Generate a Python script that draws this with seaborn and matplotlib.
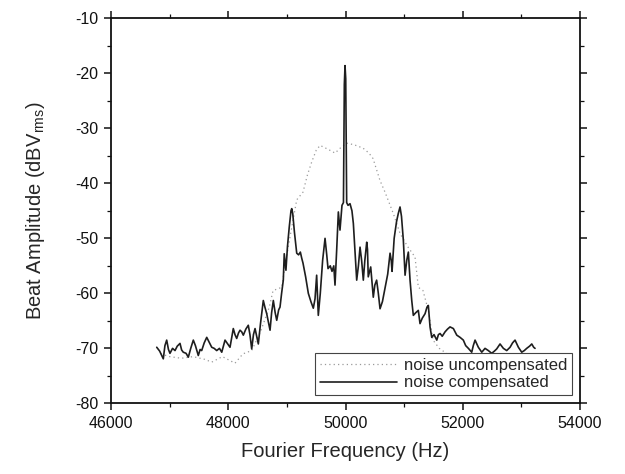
import numpy as np
import pandas as pd
import matplotlib
matplotlib.use("Agg")
import matplotlib.pyplot as plt
import seaborn as sns

# === Data ===
comp_freq = [46780, 46830, 46892, 46920, 46950, 46980, 47006, 47050, 47092, 47130,
             47177, 47205, 47233, 47280, 47319, 47360, 47404, 47440, 47489, 47520,
             47547, 47590, 47633, 47680, 47718, 47760, 47803, 47850, 47889, 47920,
             47945, 47990, 48030, 48060, 48086, 48115, 48144, 48175, 48201, 48230,
             48257, 48300, 48342, 48370, 48400, 48430, 48457, 48490, 48513, 48550,
             48598, 48625, 48656, 48690, 48713, 48740, 48769, 48800, 48827, 48860,
             48883, 48910, 48939, 48955, 48984, 49010, 49040, 49070, 49083, 49100,
             49130, 49168, 49200, 49230, 49253, 49275, 49320, 49366, 49410, 49451,
             49480, 49508, 49520, 49536, 49570, 49610, 49651, 49680, 49702, 49740,
             49770, 49800, 49821, 49850, 49878, 49906, 49940, 49965, 49980, 49992,
             50004, 50020, 50043, 50077, 50110, 50134, 50160, 50191, 50220, 50248,
             50275, 50304, 50330, 50362, 50375, 50388, 50430, 50474, 50500, 50531,
             50560, 50589, 50630, 50674, 50720, 50760, 50780, 50794, 50830, 50870,
             50900, 50930, 50955, 50987, 51016, 51045, 51072, 51101, 51130, 51157,
             51200, 51242, 51271, 51310, 51357, 51390, 51413, 51442, 51471, 51510,
             51557, 51585, 51613, 51650, 51698, 51740, 51783, 51840, 51870, 51898,
             51954, 52010, 52050, 52096, 52153, 52180, 52210, 52266, 52324, 52380,
             52436, 52494, 52540, 52579, 52636, 52693, 52750, 52807, 52850, 52892,
             52949, 53006, 53050, 53091, 53140, 53177, 53210, 53233]
comp_db = [-69.8, -70.5, -71.9, -69.5, -68.5, -70.2, -70.9, -70.0, -70.4, -69.6,
           -69.1, -70.3, -70.7, -70.9, -71.6, -70.0, -68.5, -69.5, -71.3, -70.2,
           -70.4, -69.0, -68.0, -69.0, -69.8, -70.0, -70.4, -70.0, -70.7, -69.5,
           -68.5, -69.2, -69.8, -68.0, -66.4, -67.5, -68.2, -67.2, -66.7, -67.0,
           -67.6, -66.5, -65.8, -67.5, -70.1, -67.5, -66.4, -68.0, -69.2, -65.5,
           -61.3, -62.5, -63.7, -65.5, -66.7, -63.5, -61.3, -63.5, -64.9, -63.0,
           -62.5, -60.0, -57.6, -52.8, -55.8, -51.5, -48.0, -45.0, -44.6, -45.5,
           -49.0, -52.7, -53.0, -52.5, -53.6, -54.5, -57.0, -60.0, -61.5, -62.7,
           -61.0, -56.7, -60.0, -64.0, -60.0, -54.0, -50.0, -53.0, -55.5, -55.0,
           -56.0, -55.0, -58.5, -52.0, -45.2, -48.5, -44.0, -43.5, -22.0, -18.6,
           -21.0, -43.5, -44.0, -43.7, -45.0, -47.3, -52.0, -57.6, -55.0, -51.6,
           -54.0, -57.6, -54.0, -50.7, -52.0, -57.0, -55.2, -60.7, -58.5, -57.6,
           -60.0, -62.8, -61.5, -59.1, -56.5, -52.7, -54.0, -56.0, -50.0, -47.0,
           -45.5, -44.3, -46.0, -50.4, -56.7, -54.0, -52.5, -57.6, -61.3, -64.0,
           -63.5, -63.1, -65.5, -64.5, -63.7, -62.5, -62.2, -66.1, -68.0, -67.5,
           -68.5, -67.5, -67.3, -67.8, -67.0, -66.5, -66.1, -66.4, -67.0, -67.6,
           -68.0, -68.5, -69.5, -70.0, -70.7, -69.5, -68.5, -69.8, -70.7, -70.0,
           -70.4, -70.9, -70.5, -70.1, -69.2, -70.0, -70.4, -69.8, -69.0, -68.5,
           -69.8, -70.7, -70.4, -70.0, -69.6, -69.2, -69.8, -70.0]

uncomp_freq = [46850, 47000, 47200, 47400, 47600, 47718, 47900, 48115, 48250, 48400,
               48550, 48700, 48764, 48912, 49000, 49100, 49168, 49275, 49350, 49424,
               49500, 49566, 49700, 49822, 49920, 50021, 50150, 50299, 50400, 50470,
               50589, 50674, 50816, 50930, 51060, 51186, 51242, 51322, 51413, 51493,
               51600, 51800, 52000, 52300, 52600, 52900, 53200]
uncomp_db = [-71.0, -71.5, -71.8, -71.5, -72.0, -72.5, -71.5, -72.7, -71.0, -70.4,
             -67.0, -62.5, -59.5, -58.9, -53.0, -47.0, -43.0, -41.6, -38.5, -36.1,
             -34.0, -33.1, -33.8, -34.5, -33.5, -32.7, -33.0, -33.6, -34.5, -35.5,
             -39.5, -41.6, -45.5, -49.1, -51.5, -53.4, -58.9, -59.5, -63.1, -68.5,
             -70.0, -71.5, -72.0, -72.5, -72.0, -72.5, -72.0]

x_ticks = [46000, 48000, 50000, 52000, 54000]
y_ticks = [-80, -70, -60, -50, -40, -30, -20, -10]

comp = pd.DataFrame({"freq": comp_freq, "db": comp_db})
uncomp = pd.DataFrame({"freq": uncomp_freq, "db": uncomp_db})

# === Style ===
sns.set_style("ticks")
plt.rcParams["font.family"] = ["Liberation Sans", "DejaVu Sans"]
plt.rcParams["mathtext.fontset"] = "custom"
plt.rcParams["mathtext.rm"] = "Liberation Sans"
plt.rcParams["mathtext.it"] = "Liberation Sans"
plt.rcParams["axes.unicode_minus"] = False

fig = plt.figure(figsize=(6.25, 4.74), dpi=100)
ax = fig.add_axes([0.1776, 0.149, 0.7504, 0.8124])

sns.lineplot(data=uncomp, x="freq", y="db", ax=ax, color="#9a9a9a",
             linewidth=0.9, linestyle=(0, (1, 2.5)), label="noise uncompensated")
sns.lineplot(data=comp, x="freq", y="db", ax=ax, color="#1e1e1e",
             linewidth=1.2, label="noise compensated")

ax.set_xlim(46000, 54000)
ax.set_ylim(-80, -10)
ax.set_xticks(x_ticks)
ax.set_yticks(y_ticks)
ax.set_xticks(np.arange(46000, 54001, 1000), minor=True)
ax.set_yticks(np.arange(-80, -9, 5), minor=True)

for side in ["top", "right", "left", "bottom"]:
    ax.spines[side].set_visible(True)
    ax.spines[side].set_linewidth(1.3)
    ax.spines[side].set_color("#111111")

ax.tick_params(which="both", direction="out", top=True, right=True,
               labeltop=False, labelright=False, colors="#111111")
ax.tick_params(which="major", length=5, width=1.1, labelsize=11.5, pad=4)
ax.tick_params(which="minor", length=3, width=0.9)

ax.set_xlabel("Fourier Frequency (Hz)", fontsize=14.5, labelpad=8)
ax.set_ylabel(r"Beat Amplitude (dBV$_{\mathrm{rms}}$)", fontsize=14.5, labelpad=20)

leg = ax.legend(loc="lower right", bbox_to_anchor=(0.99, 0.012), fontsize=12,
                frameon=True, fancybox=False, framealpha=1.0, edgecolor="#444444",
                borderpad=0.3, labelspacing=0.15, handlelength=4.6,
                handletextpad=0.4, borderaxespad=0.2)
leg.get_frame().set_linewidth(0.8)

fig.savefig("out.png", dpi=100)
plt.close(fig)
